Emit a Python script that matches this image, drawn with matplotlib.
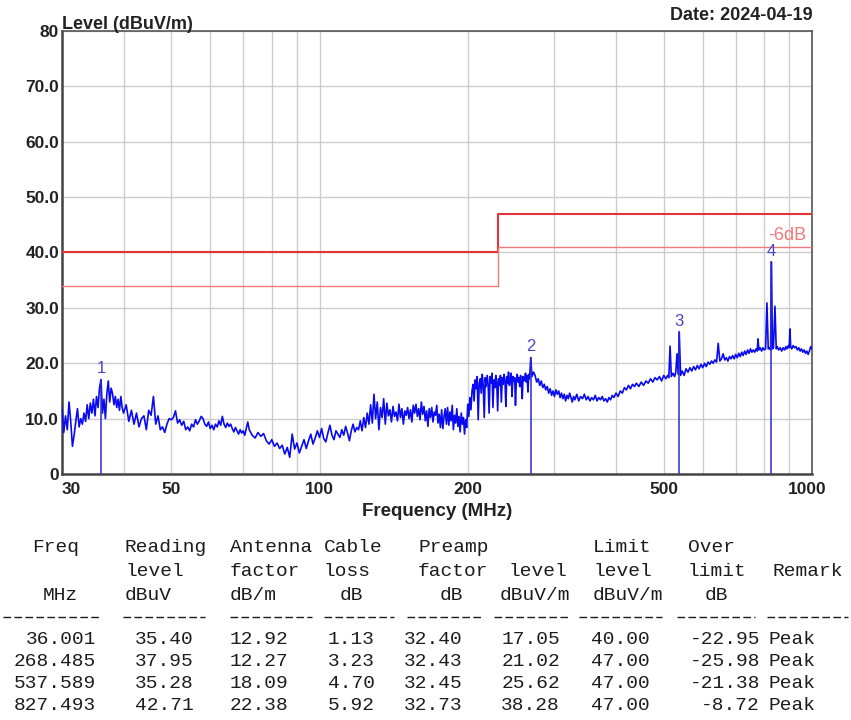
import matplotlib
matplotlib.use("Agg")
import matplotlib.pyplot as plt
import numpy as np
from matplotlib.lines import Line2D
from matplotlib.ticker import NullFormatter
import matplotlib.transforms as mtransforms

plt.rcParams['font.family'] = ['Liberation Sans', 'DejaVu Sans']

# ---------------- data ----------------
# spectrum trace (MHz, dBuV/m), by region
freq_a = [30.00, 30.25, 30.50, 30.75, 31.00, 31.25, 31.50, 31.75, 32.00, 32.25,
          32.50, 32.75, 33.00, 33.25, 33.50, 33.75, 34.00, 34.25, 34.50, 34.75,
          35.00, 35.25, 35.50, 35.75, 36.001, 36.25, 36.50, 36.75, 37.00, 37.25,
          37.50, 37.75, 38.00, 38.25, 38.50, 38.75, 39.00, 39.25, 39.50, 39.75]
level_a = [12.0, 7.5, 10.5, 8.0, 13.0, 9.5, 5.0, 7.0, 9.5, 11.8,
           8.5, 10.0, 9.0, 11.0, 9.5, 12.5, 10.0, 12.8, 11.0, 13.5,
           10.5, 14.0, 12.0, 15.5, 17.05, 11.0, 13.5, 10.0, 14.5, 16.8,
           13.0, 15.5, 14.5, 12.5, 14.0, 12.0, 13.5, 11.5, 14.0, 12.0]

freq_b = [40.0, 40.5, 41.0, 41.5, 42.0, 42.5, 43.0, 43.5, 44.0, 44.5,
          45.0, 45.5, 46.0, 46.5, 47.0, 47.5, 48.0, 48.5, 49.0, 49.5,
          50.0, 50.5, 51.0, 51.5, 52.0, 52.5, 53.0, 53.5, 54.0, 54.5,
          55.0, 55.5, 56.0, 56.5, 57.0, 57.5, 58.0, 58.5, 59.0, 59.5,
          60.0, 60.5, 61.0, 61.5, 62.0, 62.5, 63.0, 63.5, 64.0, 64.5,
          65.0, 65.5, 66.0, 66.5, 67.0, 67.5, 68.0, 68.5, 69.0, 69.5,
          70.0, 70.5, 71.0, 71.5]
level_b = [11.0, 12.5, 9.5, 11.5, 9.0, 11.0, 8.5, 10.0, 10.5, 8.0,
           11.5, 10.6, 14.0, 9.0, 10.5, 8.0, 8.5, 7.5, 9.0, 10.0,
           9.8, 10.2, 11.4, 9.2, 9.8, 8.8, 9.5, 8.0, 8.5, 7.8,
           9.0, 8.5, 9.8, 9.0, 9.6, 10.4, 10.0, 9.0, 8.6, 9.4,
           8.2, 8.8, 8.0, 9.0, 8.5, 9.6, 8.8, 10.4, 9.0, 8.4,
           9.2, 8.6, 9.0, 8.2, 7.6, 8.4, 7.8, 7.2, 8.0, 7.4,
           7.8, 7.0, 8.2, 9.4]

freq_c = [72, 73, 74, 75, 76, 77, 78, 79, 80, 81,
          82, 83, 84, 85, 86, 87, 88, 89, 90, 91,
          92, 93, 94, 95, 96, 97, 98, 99, 100, 101,
          102, 103, 104, 105, 106, 107, 108, 109, 110, 111,
          112, 113, 114, 115, 116, 117, 118, 119]
level_c = [8.0, 7.0, 6.5, 7.5, 6.8, 7.3, 6.0, 5.4, 6.2, 5.0,
           5.6, 4.6, 5.2, 3.6, 4.8, 3.0, 7.2, 4.5, 5.6, 3.8,
           5.0, 6.2, 4.6, 6.0, 7.2, 5.4, 6.5, 7.8, 6.6, 8.2,
           6.4, 5.8, 7.4, 8.8, 7.0, 6.2, 7.8, 7.2, 6.6, 8.0,
           7.0, 8.6, 7.4, 6.0, 7.8, 9.0, 7.6, 8.4]

freq_d = [120, 121, 122, 123, 124, 125, 126, 127, 128, 129,
          130, 131, 132, 133, 134, 135, 136, 137, 138, 139,
          140, 141, 142, 143, 144, 145, 146, 147, 148, 149,
          150, 151, 152, 153, 154, 155, 156, 157, 158, 159,
          160, 161, 162, 163, 164, 165, 166, 167, 168, 169,
          170, 171, 172, 173, 174, 175, 176, 177, 178, 179,
          180, 181, 182, 183, 184, 185, 186, 187, 188, 189,
          190, 191, 192, 193, 194, 195, 196, 197, 198, 199,
          200, 201, 202, 203, 204]
level_d = [8.0, 9.6, 7.8, 10.2, 8.4, 11.0, 9.0, 12.5, 9.2, 14.4,
           10.0, 13.0, 8.0, 12.0, 10.2, 13.6, 9.0, 12.8, 10.5, 11.6,
           9.4, 12.2, 10.4, 11.2, 9.6, 12.6, 10.2, 11.8, 9.0, 11.4,
           10.6, 12.0, 10.0, 11.6, 9.4, 12.4, 11.0, 12.6, 10.4, 11.8,
           9.8, 13.0, 10.8, 12.2, 9.6, 11.4, 8.6, 11.8, 10.2, 12.0,
           9.4, 11.2, 10.6, 12.4, 9.2, 10.8, 8.4, 11.6, 8.2, 10.4,
           11.8, 9.0, 12.0, 8.8, 11.2, 9.6, 12.4, 8.0, 10.6, 9.2,
           11.8, 8.6, 10.4, 7.6, 11.0, 9.0, 10.2, 7.2, 9.8, 8.4,
           12.6, 10.4, 13.8, 11.6, 15.0]

freq_e = [205, 206, 207, 208, 209, 210, 211, 212, 213, 214,
          215, 216, 217, 218, 219, 220, 221, 222, 223, 224,
          225, 226, 227, 228, 229, 230, 231, 232, 233, 234,
          235, 236, 237, 238, 239, 240, 241, 242, 243, 244,
          245, 246, 247, 248, 249, 250, 251, 252, 253, 254,
          255, 256, 257, 258, 259, 260, 261, 262, 263, 264,
          265, 266, 267, 268.485]
level_e = [16.2, 13.2, 17.0, 15.4, 17.6, 9.8, 16.4, 17.2, 14.6, 18.0,
           16.0, 10.2, 17.4, 15.8, 17.8, 16.2, 11.0, 17.6, 16.4, 18.2,
           12.0, 17.0, 15.6, 17.8, 16.6, 11.4, 17.2, 16.0, 17.8, 13.0,
           17.4, 16.2, 18.0, 16.8, 12.2, 17.6, 16.4, 18.4, 16.0, 17.2,
           18.2, 14.0, 17.6, 16.8, 17.4, 12.4, 17.0, 18.0, 16.6, 17.4,
           15.8, 17.8, 16.4, 13.6, 17.6, 16.8, 17.2, 18.2, 16.6, 17.8,
           14.8, 18.0, 17.2, 21.02]

freq_f = [270, 272, 274, 276, 278, 280, 282, 284, 286, 288,
          290, 292, 294, 296, 298, 300, 302, 304, 306, 308,
          310, 312, 314, 316, 318, 320, 322, 324, 326, 328,
          330, 333, 336, 339, 342, 345, 348, 351, 354, 357,
          360, 363, 366, 369, 372, 375, 378, 381, 384, 387,
          390, 393, 396, 400, 404, 408, 412, 416, 420, 424,
          428, 432, 436, 440, 445, 450, 455, 460, 465, 470,
          475, 480, 485, 490, 495, 500, 505, 509, 512, 515,
          518, 522, 526, 529, 532, 535, 537.589, 541, 545]
level_f = [17.6, 18.4, 17.8, 16.6, 17.2, 16.0, 16.8, 15.6, 16.2, 15.2,
           15.8, 14.6, 15.4, 14.2, 15.0, 14.0, 15.2, 14.4, 15.0, 13.8,
           14.6, 13.6, 14.4, 13.2, 14.2, 13.6, 14.6, 13.8, 13.0, 14.0,
           13.4, 14.4, 13.2, 14.0, 13.6, 14.4, 13.4, 14.0, 13.2, 13.8,
           13.4, 14.2, 13.2, 13.8, 13.4, 14.0, 13.2, 13.6, 13.0, 13.8,
           13.4, 14.2, 13.8, 14.6, 14.0, 15.0, 14.6, 15.6, 15.2, 16.0,
           15.4, 16.2, 15.8, 16.4, 15.8, 16.6, 16.0, 16.8, 16.4, 17.2,
           16.6, 17.4, 17.0, 17.6, 16.8, 17.8, 17.2, 17.8, 17.4, 23.1,
           17.6, 18.2, 17.6, 18.4, 21.7, 18.0, 25.62, 17.8, 18.6]

freq_g = [550, 555, 560, 565, 570, 575, 580, 585, 590, 595,
          600, 605, 610, 615, 620, 625, 630, 635, 640, 645,
          650, 655, 660, 665, 670, 675, 680, 685, 690, 695,
          700, 705, 710, 715, 720, 725, 730, 735, 740, 745,
          750, 755, 760, 765, 770, 774, 777, 780, 785, 790,
          795, 800, 805, 810, 815, 820, 824, 827.493, 831, 835,
          841, 846, 850, 856, 862, 868, 874, 880, 885, 890,
          895, 899, 902, 905, 910, 916, 922, 928, 934, 940,
          946, 952, 958, 964, 970, 976, 982, 988, 994, 1000]
level_g = [17.8, 19.0, 18.4, 19.2, 18.6, 19.4, 18.8, 19.6, 19.0, 19.8,
           19.2, 20.0, 19.4, 20.2, 19.8, 20.4, 20.0, 20.6, 20.2, 23.6,
           20.4, 20.8, 21.7, 20.6, 21.0, 20.4, 21.2, 20.8, 21.4, 20.8,
           21.6, 21.0, 21.8, 21.2, 22.0, 21.4, 22.2, 21.6, 22.4, 21.8,
           22.6, 22.0, 22.4, 22.0, 22.6, 22.2, 24.4, 22.4, 22.8, 22.2,
           22.8, 22.4, 22.6, 30.9, 22.6, 22.8, 22.4, 38.28, 22.6, 22.8,
           30.3, 22.6, 23.0, 22.4, 22.8, 22.2, 22.8, 22.4, 23.0, 22.6,
           23.2, 22.8, 26.2, 23.0, 22.6, 23.2, 22.8, 23.0, 22.4, 22.8,
           22.2, 22.6, 22.0, 22.4, 21.8, 22.2, 21.6, 22.2, 23.0, 22.6]

# limit lines
limit_freq = [30, 230, 230, 1000]
limit_level = [40, 40, 47, 47]
limit6_level = [34, 34, 41, 41]

# marker / table data
mk_freq = [36.001, 268.485, 537.589, 827.493]
mk_reading = [35.40, 37.95, 35.28, 42.71]
mk_antenna = [12.92, 12.27, 18.09, 22.38]
mk_cable = [1.13, 3.23, 4.70, 5.92]
mk_preamp = [32.40, 32.43, 32.45, 32.73]
mk_level = [17.05, 21.02, 25.62, 38.28]
mk_limit = [40.00, 47.00, 47.00, 47.00]
mk_over = [-22.95, -25.98, -21.38, -8.72]
mk_remark = ["Peak", "Peak", "Peak", "Peak"]

xtick_vals = [30, 50, 100, 200, 500, 1000]
xtick_labels = ["30", "50", "100", "200", "500", "1000"]
xgrid_vals = [40, 60, 70, 80, 90, 300, 400, 600, 700, 800, 900]
ytick_vals = [0, 10, 20, 30, 40, 50, 60, 70, 80]
ytick_labels = ["0", "10.0", "20.0", "30.0", "40.0", "50.0", "60.0", "70.0", "80"]

# ---------------- figure ----------------
W, H = 851, 720
fig = plt.figure(figsize=(W / 100, H / 100), dpi=100)
fig.patch.set_facecolor("white")
ax = fig.add_axes([62 / W, 1 - 474 / H, 750 / W, 443 / H])

trace_f = freq_a + freq_b + freq_c + freq_d + freq_e + freq_f + freq_g
trace_l = level_a + level_b + level_c + level_d + level_e + level_f + level_g

ax.set_xscale("log")
ax.set_xlim(30, 1000)
ax.set_ylim(0, 80)

grid_c = "#cccccc"
ax.set_xticks(xtick_vals)
ax.set_xticklabels(xtick_labels)
ax.set_xticks(xgrid_vals, minor=True)
ax.xaxis.set_minor_formatter(NullFormatter())
ax.set_yticks(ytick_vals)
ax.set_yticklabels(ytick_labels)
ax.grid(True, which="both", color=grid_c, linewidth=1.0)
ax.set_axisbelow(True)
ax.tick_params(which="both", length=0)
ax.tick_params(axis="x", pad=6, labelsize=12.5, colors="#222222")
ax.tick_params(axis="y", pad=2, labelsize=12.5, colors="#222222")
for lab in ax.get_xticklabels() + ax.get_yticklabels():
    lab.set_fontweight("bold")
xl = ax.get_xticklabels()
xl[0].set_ha("left")
xl[-1].set_transform(xl[-1].get_transform() +
                     mtransforms.ScaledTranslation(-5 / 100, 0, fig.dpi_scale_trans))

for side in ["top", "right"]:
    ax.spines[side].set_color("#555555")
    ax.spines[side].set_linewidth(1.2)
for side in ["left", "bottom"]:
    ax.spines[side].set_color("#444444")
    ax.spines[side].set_linewidth(1.8)

# limits
ax.plot(limit_freq, limit_level, color="#e0343a", linewidth=1.5, zorder=3)
ax.plot(limit_freq, limit6_level, color="#f07a7a", linewidth=1.0, zorder=3)
ax.annotate("-6dB", xy=(1000, 41), xytext=(-4, 2), textcoords="offset points",
            ha="right", va="bottom", color="#f07878", fontsize=13)

# trace
ax.plot(trace_f, trace_l, color="#0a0af0", linewidth=1.2, zorder=4)

# markers
for i, (f, v) in enumerate(zip(mk_freq, mk_level)):
    ax.plot([f, f], [0, v], color="#2a2ad8", linewidth=1.1, zorder=5)
    ax.annotate(str(i + 1), xy=(f, v), xytext=(0, 2.5), textcoords="offset points",
                ha="center", va="bottom", color="#4646c8", fontsize=12)

# titles
fig.text(62 / W, 1 - 33 / H, "Level (dBuV/m)", ha="left", va="bottom",
         fontsize=13, fontweight="bold", color="#222222")
fig.text(813 / W, 1 - 16 / H, "Date: 2024-04-19", ha="right", va="center",
         fontsize=13, fontweight="bold", color="#222222")
fig.text(437 / W, 1 - 511 / H, "Frequency (MHz)", ha="center", va="center",
         fontsize=13.5, fontweight="bold", color="#222222")

# ---------------- table ----------------
mono = ["Liberation Mono", "DejaVu Sans Mono"]
tcol = "#1c1c1c"
tfs = 14


def ptext(x, y, s, ha="left"):
    fig.text(x / W, 1 - y / H, s, ha=ha, va="center", family=mono,
             fontsize=tfs, color=tcol)


header = [
    (32, 547, "Freq"), (125, 547, "Reading"), (230, 547, "Antenna"),
    (324, 547, "Cable"), (418, 547, "Preamp"), (593, 547, "Limit"),
    (688, 547, "Over"),
    (125, 572, "level"), (230, 572, "factor"), (324, 572, "loss"),
    (418, 572, "factor"), (508, 572, "level"), (593, 572, "level"),
    (688, 572, "limit"), (773, 572, "Remark"),
    (43, 595, "MHz"), (125, 595, "dBuV"), (230, 595, "dB/m"), (340, 595, "dB"),
    (440, 595, "dB"), (500, 595, "dBuV/m"), (593, 595, "dBuV/m"), (705, 595, "dB"),
]
for x, y, s in header:
    ptext(x, y, s)

dash_segs = [(3, 100), (123, 205), (230, 312), (324, 394), (407, 483),
             (494, 568), (579, 662), (677, 755), (767, 848)]
for x0, x1 in dash_segs:
    fig.add_artist(Line2D([x0 / W, x1 / W], [1 - 617 / H, 1 - 617 / H],
                          transform=fig.transFigure, color=tcol, linewidth=1.0,
                          linestyle=(0, (5.5, 2.4))))

row_y = [639, 661, 684, 706]
col_right = [96, 194, 288, 375, 463, 560, 650, 760]
for r, y in enumerate(row_y):
    vals = [f"{mk_freq[r]:.3f}", f"{mk_reading[r]:.2f}", f"{mk_antenna[r]:.2f}",
            f"{mk_cable[r]:.2f}", f"{mk_preamp[r]:.2f}", f"{mk_level[r]:.2f}",
            f"{mk_limit[r]:.2f}", f"{mk_over[r]:.2f}"]
    for x, s in zip(col_right, vals):
        ptext(x, y, s, ha="right")
    ptext(769, y, mk_remark[r])

fig.savefig("out.png", dpi=100, facecolor="white")
